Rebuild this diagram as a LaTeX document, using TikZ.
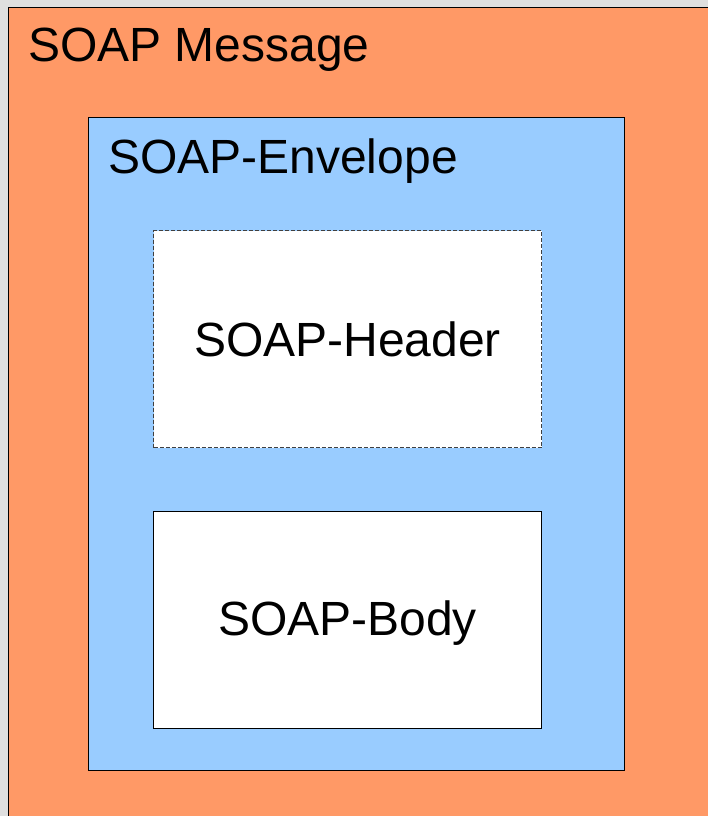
\documentclass[tikz,border=0pt]{standalone}
\usepackage{fontspec}
\setmainfont{Liberation Sans}
\usetikzlibrary{positioning}

\definecolor{msgorange}{RGB}{255,153,102}
\definecolor{envblue}{RGB}{153,204,255}

\begin{document}
\begin{tikzpicture}[
    x=1pt, y=-1pt,
    layer/.style={draw=black, line width=1pt, anchor=north west, inner sep=0pt},
    part/.style={layer, fill=white, minimum width=388pt, minimum height=217pt, font=\fontsize{48}{56}\selectfont},
    title/.style={anchor=base west, inner sep=0pt, font=\fontsize{48}{56}\selectfont}
]
\useasboundingbox (0,0) rectangle (708,816);
\fill[gray!25] (0,0) rectangle (708,816);

% Message
\node[layer, fill=msgorange, minimum width=720pt, minimum height=830pt] (message) at (8,7) {};
\node[title] (messagetitle) at (28,62) {SOAP Message};

% Envelope
\node[layer, fill=envblue, minimum width=536pt, minimum height=653pt] (envelope) at (88,117) {};
\node[title] (envelopetitle) at (108,173) {SOAP-Envelope};

% Header and Body
\node[part, draw=black!75, dashed, dash pattern=on 4pt off 2pt] (header) at (153,230) {SOAP-Header};
\node[part, below=63pt of header.south west, anchor=north west, text depth=4pt] (body) {SOAP-Body};

\end{tikzpicture}
\end{document}
